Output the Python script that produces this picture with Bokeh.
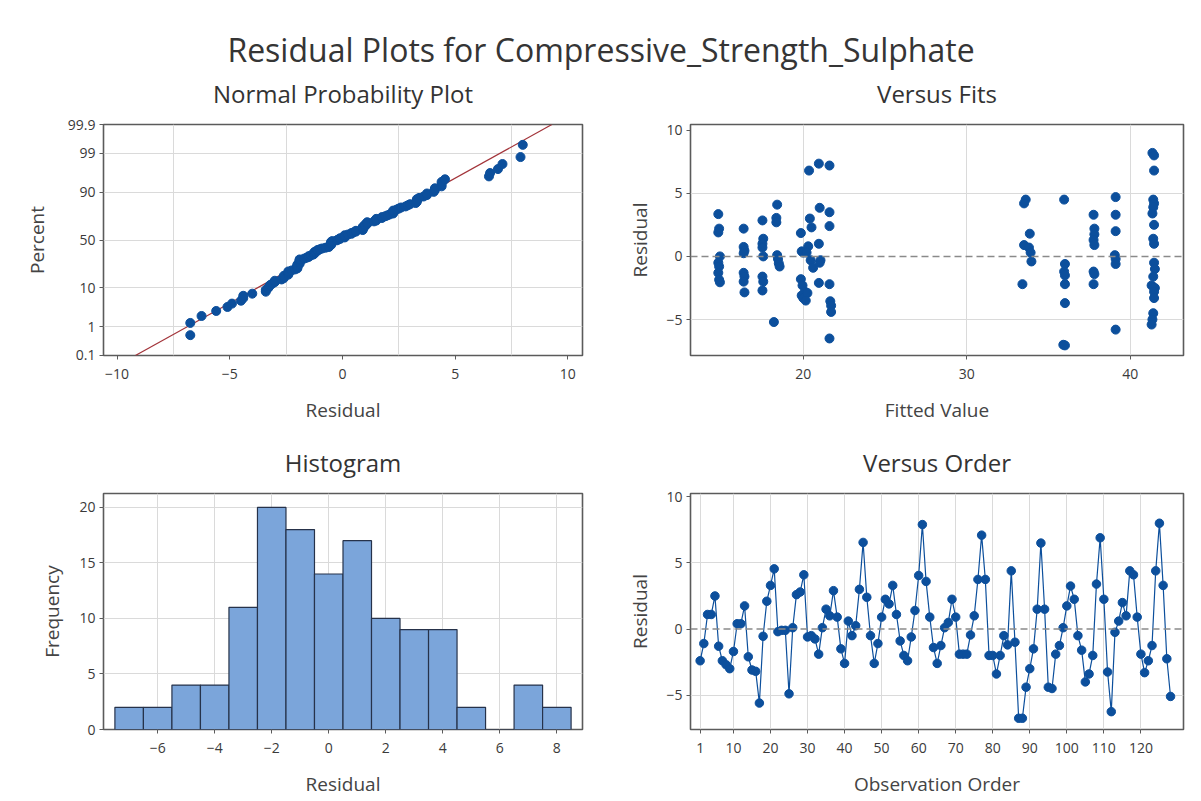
from statistics import NormalDist
import numpy as np
from bokeh.plotting import figure
from bokeh.layouts import column, row
from bokeh.models import FixedTicker, Span, Range1d
from bokeh.core.properties import value
from bokeh.embed import file_html
from bokeh.resources import INLINE

# ---------------- data ----------------
main_title = "Residual Plots for Compressive_Strength_Sulphate"
panel_titles = ["Normal Probability Plot", "Versus Fits", "Histogram", "Versus Order"]

residuals = [
    -2.4, -1.1, 1.1, 1.1, 2.5, -1.3, -2.4, -2.7, -3.0, -1.7,
    0.4, 0.4, 1.75, -2.1, -3.1, -3.2, -5.6, -0.55, 2.1, 3.3,
    4.55, -0.2, -0.1, -0.1, -4.9, 0.1, 2.6, 2.8, 4.1, -0.6,
    -0.5, -0.75, -1.9, 0.1, 1.5, 1.0, 2.9, 0.9, -1.5, -2.6,
    0.6, -0.5, 0.25, 3.0, 6.55, 2.4, -0.5, -2.6, -1.1, 0.9,
    2.25, 1.9, 3.3, 1.1, -0.9, -2.0, -2.4, -0.6, 1.4, 4.05,
    7.9, 3.6, 0.9, -1.4, -2.6, -1.25, 0.1, 0.5, 2.25, 0.9,
    -1.9, -1.9, -1.9, -0.45, 1.0, 3.75, 7.1, 3.75, -2.0, -2.0,
    -3.4, -2.0, -0.5, -1.2, 4.4, -1.0, -6.75, -6.75, -4.4, -3.0,
    -1.5, 1.5, 6.5, 1.5, -4.4, -4.5, -1.9, -1.25, 0.1, 1.75,
    3.25, 2.25, -0.5, -1.6, -4.0, -3.4, -2.0, 3.4, 6.9, 2.25,
    -3.25, -6.25, -0.25, 0.6, 2.0, 1.0, 4.4, 4.1, 0.9, -1.9,
    -3.3, -2.4, -1.25, 4.4, 8.0, 3.3, -2.25, -5.1,
]
observation = list(range(1, len(residuals) + 1))

hist_centers = [-7, -6, -5, -4, -3, -2, -1, 0, 1, 2, 3, 4, 5, 6, 7, 8]
hist_counts = [2, 2, 4, 4, 11, 20, 18, 14, 17, 10, 9, 9, 2, 0, 4, 2]

fits_x = [
    14.8, 14.85, 14.8, 14.9, 14.8, 14.85, 14.8, 14.85, 14.9,
    16.35, 16.35, 16.4, 16.35, 16.35, 16.4, 16.35, 16.4,
    17.5, 17.55, 17.5, 17.5, 17.55, 17.5, 17.55, 17.5,
    18.4, 18.35, 18.35, 18.4, 18.45, 18.5, 18.55, 18.2,
    19.85, 19.9, 20.0, 19.85, 19.95, 20.1, 19.9, 20.0,
    20.35, 20.4, 20.5, 20.3, 20.2, 20.45, 20.6, 20.25, 20.15,
    20.95, 21.0, 20.95, 21.05, 21.0, 20.95,
    21.6, 21.6, 21.6, 21.6, 21.65, 21.7, 21.7, 21.6,
    33.6, 33.5, 33.5, 33.4,
    33.85, 33.8, 33.9, 33.95,
    35.95, 36.0, 35.95, 36.0, 36.0, 36.0, 35.9, 36.0,
    37.75, 37.8, 37.8, 37.75, 37.8, 37.75, 37.8, 37.75,
    39.1, 39.1, 39.1, 39.05, 39.1, 39.1, 39.1,
    41.35, 41.45, 41.45, 41.4, 41.45, 41.4, 41.35, 41.45, 41.4, 41.45,
    41.45, 41.5, 41.4, 41.3, 41.5, 41.45, 41.45, 41.4, 41.35, 41.3,
]
fits_res = [
    3.35, 2.2, 1.9, 0.0, -0.5, -0.8, -1.3, -1.85, -2.05,
    2.2, 0.75, 0.45, 0.25, -1.3, -1.6, -2.0, -2.85,
    2.85, 1.4, 1.0, 0.7, 0.0, -1.6, -2.0, -2.7,
    4.1, 3.05, 2.7, 0.1, -0.2, -0.55, -0.8, -5.2,
    1.85, 0.4, 0.3, -1.8, -2.3, -2.8, -3.1, -3.3,
    6.8, 3.0, 2.3, 0.8, 0.3, -0.3, -0.9, -2.9, -3.5,
    7.35, 3.85, 1.0, -0.3, -0.5, -2.1,
    7.2, 3.5, 2.4, -2.2, -3.55, -3.9, -4.4, -6.5,
    4.5, 4.2, 0.9, -2.2,
    1.8, 0.7, 0.3, -0.4,
    4.5, -0.6, -1.2, -1.5, -2.2, -3.7, -7.0, -7.05,
    3.3, 2.2, 1.75, 1.3, 0.9, -1.2, -1.4, -2.2,
    4.7, 3.3, 2.0, 0.1, -0.2, -0.6, -5.8,
    8.2, 8.0, 6.8, 4.5, 4.2, 3.9, 3.4, 2.5, 1.4, 1.0,
    -0.5, -1.0, -1.6, -2.3, -2.5, -2.8, -3.3, -4.5, -5.0, -5.4,
]

prob_tick_percents = [0.1, 1, 10, 50, 90, 99, 99.9]
prob_tick_labels = ["0.1", "1", "10", "50", "90", "99", "99.9"]
npp_xticks = [-10, -5, 0, 5, 10]
fits_xticks = [20, 30, 40]
res_yticks = [-5, 0, 5, 10]
order_xticks = [1, 10, 20, 30, 40, 50, 60, 70, 80, 90, 100, 110, 120]
hist_xticks = [-6, -4, -2, 0, 2, 4, 6, 8]
hist_yticks = [0, 5, 10, 15, 20]

# ---------------- styles ----------------
FONT = "Open Sans"
BLUE = "#0c4f9c"
GRID = "#dadada"
FRAME = "#5b5b5b"
TXT = "#3a3a3a"
W = 1201

nd = NormalDist()


def strip(height):
    s = figure(width=W, height=height, x_range=Range1d(0, W), y_range=Range1d(height, 0),
               output_backend="svg", toolbar_location=None,
               x_axis_location=None, y_axis_location=None,
               min_border=0, outline_line_color=None)
    s.grid.visible = False
    return s


def base_fig(xr, yr, fw, fh, left, right, top, bottom, ylab_standoff):
    p = figure(frame_width=fw, frame_height=fh, x_range=xr, y_range=yr,
               output_backend="svg", toolbar_location=None, title=None,
               min_border_left=left, min_border_right=right,
               min_border_top=top, min_border_bottom=bottom,
               background_fill_color="white", border_fill_color="white")
    p.outline_line_color = FRAME
    p.outline_line_width = 1.6
    for ax in (p.xaxis, p.yaxis):
        ax.axis_line_color = None
        ax.major_tick_line_color = FRAME
        ax.major_tick_out = 4
        ax.major_tick_in = 0
        ax.minor_tick_line_color = None
        ax.major_label_text_font = FONT
        ax.major_label_text_font_size = "14px"
        ax.major_label_text_color = TXT
        ax.axis_label_text_font = FONT
        ax.axis_label_text_font_size = "19px"
        ax.axis_label_text_font_style = "normal"
        ax.axis_label_text_color = "#444444"
    p.xaxis.major_label_standoff = 9
    p.xaxis.axis_label_standoff = 15
    p.yaxis.major_label_standoff = 4
    p.yaxis.axis_label_standoff = ylab_standoff
    p.xgrid.grid_line_color = GRID
    p.ygrid.grid_line_color = GRID
    return p


# left panels: frame x 103..582 ; right panels: frame x 690..1183
LCX = 103 + 479 / 2
RCX = 600 + 90 + 493 / 2

# ---------------- top strip: main title + upper panel titles ----------------
top_strip = strip(110)
top_strip.text(x=[W / 2], y=[49], text=[main_title], text_align="center",
               text_baseline="middle", text_font=value(FONT), text_font_size="32px",
               text_color="#353535")
top_strip.text(x=[LCX, RCX], y=[93, 93], text=panel_titles[:2], text_align="center",
               text_baseline="middle", text_font=value(FONT), text_font_size="24px",
               text_color="#333333")

# ---------------- middle strip: lower panel titles ----------------
mid_strip = strip(44)
mid_strip.text(x=[LCX, RCX], y=[27, 27], text=panel_titles[2:], text_align="center",
               text_baseline="middle", text_font=value(FONT), text_font_size="24px",
               text_color="#333333")

# ---------------- normal probability plot ----------------
n = len(residuals)
srt = sorted(residuals)
npp_z = [nd.inv_cdf((i + 1 - 0.3) / (n + 0.4)) for i in range(n)]
mu = float(np.mean(residuals))
sd = float(np.std(residuals, ddof=1))
ztick = [nd.inv_cdf(q / 100.0) for q in prob_tick_percents]
zlo, zhi = ztick[0], ztick[-1]

p1 = base_fig(Range1d(-10.6, 10.65), Range1d(zlo - 1e-6, zhi + 1e-6),
              479, 231, 103, 18, 14, 80, 15)
p1.line([mu + sd * zlo, mu + sd * zhi], [zlo, zhi], line_color="#a3343a", line_width=1.2)
p1.scatter(srt, npp_z, size=9, fill_color=BLUE, line_color=BLUE)
p1.xaxis.ticker = FixedTicker(ticks=npp_xticks)
p1.xgrid.ticker = FixedTicker(ticks=[-7.5, -2.5, 2.5, 7.5])
p1.yaxis.ticker = FixedTicker(ticks=ztick)
p1.yaxis.major_label_overrides = {z: lab for z, lab in zip(ztick, prob_tick_labels)}
p1.ygrid.ticker = FixedTicker(ticks=ztick[1:-1])
p1.xaxis.axis_label = "Residual"
p1.yaxis.axis_label = "Percent"

# ---------------- versus fits ----------------
p2 = base_fig(Range1d(13.1, 43.25), Range1d(-7.85, 10.45),
              493, 231, 90, 18, 14, 80, 10)
p2.ygrid.ticker = FixedTicker(ticks=[-5, 5])
p2.xgrid.ticker = FixedTicker(ticks=fits_xticks)
p2.add_layout(Span(location=0, dimension="width", line_color="#8a8a8a",
                   line_dash="7 4", line_width=1.5))
p2.scatter(fits_x, fits_res, size=9, fill_color=BLUE, line_color=BLUE)
p2.xaxis.ticker = FixedTicker(ticks=fits_xticks)
p2.yaxis.ticker = FixedTicker(ticks=res_yticks)
p2.xaxis.axis_label = "Fitted Value"
p2.yaxis.axis_label = "Residual"

# ---------------- histogram ----------------
p3 = base_fig(Range1d(-7.9, 8.9), Range1d(0, 21.25),
              479, 236, 103, 18, 14, 72, 11)
p3.xgrid.ticker = FixedTicker(ticks=hist_xticks)
p3.ygrid.ticker = FixedTicker(ticks=hist_yticks[1:])
p3.vbar(x=hist_centers, top=hist_counts, width=1.0, bottom=0,
        fill_color="#7ba5da", line_color="#26324a", line_width=1.2)
p3.xaxis.ticker = FixedTicker(ticks=hist_xticks)
p3.yaxis.ticker = FixedTicker(ticks=hist_yticks)
p3.xaxis.axis_label = "Residual"
p3.yaxis.axis_label = "Frequency"

# ---------------- versus order ----------------
p4 = base_fig(Range1d(-1.6, 131.5), Range1d(-7.6, 10.25),
              493, 236, 90, 18, 14, 72, 10)
p4.xgrid.ticker = FixedTicker(ticks=order_xticks)
p4.ygrid.ticker = FixedTicker(ticks=[-5, 5])
p4.add_layout(Span(location=0, dimension="width", line_color="#8a8a8a",
                   line_dash="7 4", line_width=1.5))
p4.line(observation, residuals, line_color=BLUE, line_width=1.2)
p4.scatter(observation, residuals, size=8.5, fill_color=BLUE, line_color=BLUE)
p4.xaxis.ticker = FixedTicker(ticks=order_xticks)
p4.yaxis.ticker = FixedTicker(ticks=res_yticks)
p4.xaxis.axis_label = "Observation Order"
p4.yaxis.axis_label = "Residual"

layout = column(top_strip, row(p1, p2), mid_strip, row(p3, p4))

open("out.html", "w").write(file_html(layout, INLINE))
